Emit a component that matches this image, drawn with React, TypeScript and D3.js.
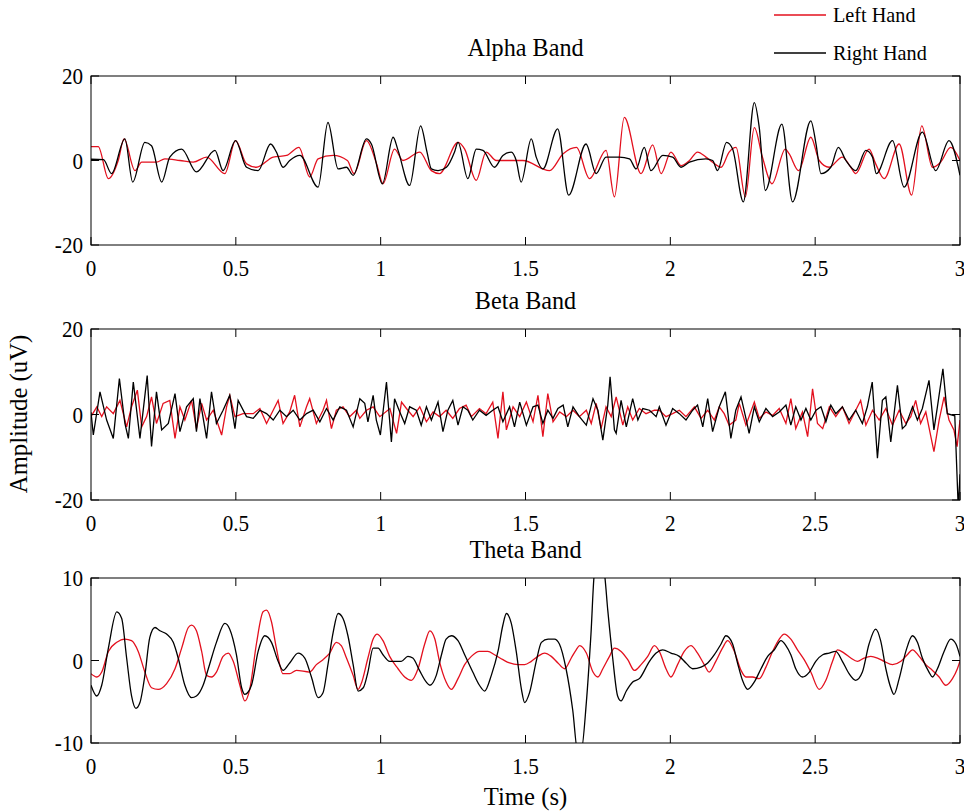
import * as d3 from 'd3'

type Pt = [number, number]

// time axis (s) and amplitude ticks
const timeTicks = [0, 0.5, 1, 1.5, 2, 2.5, 3]
const wideTicks = [-20, 0, 20]
const narrowTicks = [-10, 0, 10]

// Alpha band: [time s, amplitude uV]
const alphaLeft: Pt[] = [
  [0, 3.3], [0.025, 3.3], [0.06, -4.3], [0.094, 0], [0.114, 5.1], [0.152, -2.4], [0.175, -0.4], [0.226, -0.4],
  [0.255, 0.4], [0.307, 0], [0.353, -0.4], [0.399, 0.8], [0.462, -3.1], [0.499, 4.7], [0.537, -0.8], [0.571, -1.6],
  [0.629, 0.8], [0.675, 1.2], [0.718, 3.1], [0.755, -3.9], [0.784, 0.4], [0.836, 1.2], [0.885, 0], [0.908, -3.1],
  [0.951, 4.7], [0.986, -0.8], [1.008, -5.5], [1.048, 2.7], [1.077, 0], [1.135, 2.0], [1.175, -2.4], [1.203, -3.1],
  [1.267, 4.3], [1.29, 2.7], [1.33, -4.7], [1.364, 2.0], [1.399, 0], [1.491, 0], [1.583, -2.4], [1.63, 1.6],
  [1.676, 3.1], [1.721, -4.3], [1.778, 2.4], [1.807, -8.6], [1.841, 10.2], [1.899, -3.1], [1.939, 3.7], [1.968, -3.1],
  [2.002, 2.0], [2.037, -1.2], [2.066, 0], [2.094, 2.0], [2.123, 0.8], [2.146, -0.4], [2.175, -1.6], [2.203, 2.0],
  [2.227, 3.1], [2.259, -8.6], [2.29, 7.8], [2.318, 0.8], [2.351, -5.5], [2.397, 2.7], [2.41, 1.6], [2.443, -2.4],
  [2.485, 5.5], [2.514, 0], [2.548, -1.6], [2.594, 0.8], [2.623, -1.6], [2.64, -3.1], [2.686, 2.7], [2.709, -0.8],
  [2.738, -4.3], [2.79, 3.9], [2.833, -8.2], [2.868, 8.2], [2.905, -1.6], [2.933, -0.4], [2.968, 3.1], [3.0, 0],
]
const alphaRight: Pt[] = [
  [0, 0.3], [0.043, 0.2], [0.071, -3.1], [0.117, 5.1], [0.144, -5.1], [0.186, 4.3], [0.209, 3.5], [0.244, -5.1],
  [0.272, 0.8], [0.313, 2.7], [0.364, -2.7], [0.428, 2.4], [0.456, -2.4], [0.499, 4.7], [0.537, -1.6], [0.577, -2.4],
  [0.62, 3.9], [0.64, 2.0], [0.663, -1.6], [0.686, 0], [0.721, 1.2], [0.784, -6.3], [0.818, 9.0], [0.853, -2.0],
  [0.882, -1.6], [0.905, -3.5], [0.951, 5.1], [0.968, 3.9], [1.006, -5.5], [1.043, 5.5], [1.06, 2.4], [1.1, -5.9],
  [1.138, 8.2], [1.16, 2.0], [1.175, -2.0], [1.198, -2.4], [1.227, -1.6], [1.255, 2.0], [1.267, 4.3], [1.301, -4.3],
  [1.33, 2.7], [1.353, 2.4], [1.393, -1.6], [1.422, 1.2], [1.451, 2.0], [1.468, 0], [1.485, -5.1], [1.52, 5.1],
  [1.537, 0.8], [1.56, -2.0], [1.611, 7.5], [1.649, -8.2], [1.709, 3.9], [1.744, -3.1], [1.778, 0.8], [1.824, 0.8],
  [1.859, 0.4], [1.882, -2.0], [1.91, 3.1], [1.933, -2.4], [1.974, 1.2], [2.008, 0.8], [2.037, -1.6], [2.066, -0.4],
  [2.123, 0.4], [2.146, 0], [2.163, -2.4], [2.194, 4.3], [2.215, 2.7], [2.252, -9.8], [2.29, 13.7], [2.307, 7.8],
  [2.328, -7.1], [2.385, 8.6], [2.422, -9.8], [2.485, 9.4], [2.503, 3.9], [2.52, -3.1], [2.554, -1.6], [2.58, 3.1],
  [2.606, 0], [2.64, -2.4], [2.675, 2.4], [2.698, 0.8], [2.711, -3.1], [2.767, 4.7], [2.807, -6.3], [2.87, 6.7],
  [2.916, -2.4], [2.962, 4.7], [3.0, -3.5],
]

// Beta band
const betaLeft: Pt[] = [
  [0, -0.5], [0.02, 1.8], [0.037, -0.5], [0.054, 1.8], [0.077, 0.2], [0.1, 3.3], [0.123, -2.9], [0.14, 1.8],
  [0.16, 5.7], [0.175, -2.9], [0.192, -0.5], [0.209, 4.1], [0.226, -2.1], [0.249, 2.6], [0.272, 3.3], [0.29, -5.6],
  [0.307, 1.8], [0.324, -1.3], [0.347, 3.3], [0.364, -3.3], [0.382, 2.6], [0.399, -1.3], [0.422, 1.0], [0.451, -4.8],
  [0.468, 1.8], [0.479, 4.5], [0.497, -0.5], [0.525, 0.2], [0.56, 0.2], [0.583, 1.4], [0.606, -2.1], [0.629, 1.0],
  [0.646, 3.3], [0.663, -2.1], [0.686, 0.6], [0.703, 4.5], [0.721, -2.9], [0.744, 1.8], [0.755, 3.7], [0.778, -2.1],
  [0.801, 1.0], [0.813, 3.3], [0.83, -3.3], [0.847, 1.0], [0.87, 1.8], [0.893, -0.5], [0.916, 1.0], [0.928, -0.9],
  [0.951, 1.0], [0.974, 1.8], [0.997, -0.5], [1.032, 1.4], [1.055, -4.4], [1.072, 2.9], [1.089, 1.4], [1.112, -0.5],
  [1.135, 1.8], [1.158, -1.7], [1.181, 0.6], [1.203, -0.5], [1.226, 1.0], [1.249, -0.9], [1.272, 1.4], [1.295, 2.2],
  [1.313, -0.5], [1.341, 1.4], [1.364, 0.2], [1.387, 2.9], [1.405, -5.6], [1.422, 5.3], [1.434, -3.6], [1.457, 1.8],
  [1.48, -0.5], [1.503, 2.9], [1.526, -1.7], [1.543, 4.5], [1.56, -5.2], [1.577, 4.9], [1.595, -1.7], [1.618, 0.6],
  [1.641, -0.5], [1.664, 1.0], [1.686, -0.5], [1.71, 1.0], [1.727, -2.1], [1.744, 2.6], [1.761, -3.3], [1.778, 1.8],
  [1.796, -0.5], [1.813, 4.1], [1.836, -2.5], [1.853, 1.8], [1.87, -1.3], [1.893, 1.4], [1.916, 0.2], [1.945, 1.0],
  [1.962, 1.0], [1.985, -0.5], [2.008, 0.2], [2.031, 1.0], [2.054, -0.5], [2.083, 1.8], [2.106, -0.9], [2.129, 1.0],
  [2.152, -1.3], [2.169, 1.8], [2.186, 0.2], [2.203, -2.5], [2.226, -1.3], [2.238, 2.6], [2.261, -2.5], [2.29, 2.9],
  [2.307, -0.9], [2.33, 0.6], [2.353, -0.2], [2.376, 1.4], [2.399, -2.1], [2.416, 3.7], [2.433, -3.3], [2.456, 0.6],
  [2.474, -5.2], [2.491, 6.0], [2.508, -2.1], [2.526, -3.3], [2.549, 1.8], [2.571, -0.5], [2.594, 1.8], [2.617, -2.1],
  [2.64, 1.0], [2.657, 3.3], [2.675, -2.5], [2.698, 1.0], [2.721, -1.3], [2.744, 1.4], [2.767, -2.5], [2.79, 1.0],
  [2.813, -2.1], [2.83, -0.5], [2.847, 3.3], [2.864, -2.1], [2.882, 0.6], [2.91, -8.7], [2.928, -1.3], [2.945, 4.1],
  [2.962, -1.3], [2.979, -3.6], [2.99, -7.5], [3.0, -1.3],
]
const betaRight: Pt[] = [
  [0, 0.5], [0.008, -4.8], [0.031, 5.3], [0.054, -1.3], [0.077, -5.6], [0.098, 8.4], [0.117, -2.1], [0.129, -5.6],
  [0.146, 7.6], [0.169, -5.6], [0.194, 9.1], [0.209, -7.5], [0.226, 5.3], [0.244, -3.6], [0.267, -2.1], [0.29, 4.9],
  [0.307, -4.0], [0.33, 1.8], [0.353, 3.7], [0.364, -4.0], [0.376, 3.7], [0.399, -5.6], [0.416, 5.3], [0.433, -2.1],
  [0.456, 1.0], [0.479, 4.5], [0.497, -3.3], [0.508, 3.3], [0.537, -0.5], [0.56, -0.9], [0.583, 1.0], [0.606, 0.2],
  [0.629, -1.3], [0.652, 1.0], [0.675, -0.5], [0.698, 1.0], [0.721, -1.3], [0.744, 0.2], [0.767, 1.0], [0.79, -1.7],
  [0.813, 1.4], [0.836, -1.3], [0.859, 1.8], [0.882, 1.0], [0.905, -2.9], [0.928, 3.7], [0.945, 2.6], [0.956, -1.7],
  [0.974, 4.5], [0.985, -1.3], [0.999, -4.8], [1.02, 7.6], [1.037, -6.4], [1.048, 3.7], [1.066, 0.6], [1.083, -2.1],
  [1.1, 1.8], [1.123, 1.0], [1.14, -2.5], [1.158, 1.8], [1.175, -1.3], [1.198, 2.9], [1.215, -4.0], [1.232, 1.0],
  [1.249, 3.3], [1.267, -2.5], [1.284, 1.8], [1.301, 1.0], [1.318, -1.3], [1.341, 1.0], [1.364, -0.2], [1.387, 1.0],
  [1.405, 1.8], [1.422, -1.7], [1.445, 1.8], [1.462, -2.9], [1.48, 2.9], [1.503, -2.5], [1.526, 1.8], [1.543, 2.2],
  [1.56, -2.1], [1.577, 1.0], [1.595, -0.9], [1.612, 1.4], [1.63, 2.2], [1.646, -2.9], [1.664, 1.8], [1.686, -0.5],
  [1.71, -2.5], [1.733, 3.7], [1.75, 1.0], [1.767, -6.0], [1.784, 2.2], [1.792, 8.8], [1.807, -3.6], [1.813, -4.4],
  [1.83, 3.3], [1.848, -2.9], [1.87, 3.7], [1.888, -1.3], [1.905, 1.4], [1.928, 1.0], [1.951, -0.5], [1.962, 1.8],
  [1.985, -2.5], [2.008, 1.4], [2.031, 0.2], [2.054, -1.3], [2.077, 1.0], [2.094, 2.2], [2.112, -2.9], [2.129, 3.7],
  [2.146, -4.0], [2.169, 1.8], [2.19, 5.3], [2.209, -5.6], [2.226, 1.0], [2.244, 4.1], [2.261, -0.9], [2.272, -4.4],
  [2.29, 1.8], [2.307, -1.7], [2.33, 1.4], [2.353, -0.5], [2.376, 0.6], [2.399, 2.2], [2.416, -2.5], [2.433, 1.8],
  [2.451, -1.3], [2.468, 1.4], [2.485, -1.3], [2.503, 1.0], [2.52, 1.8], [2.537, -1.7], [2.554, 2.2], [2.571, 0.2],
  [2.594, 1.8], [2.617, -1.3], [2.64, 1.0], [2.663, -2.1], [2.68, 1.8], [2.697, 7.6], [2.715, -10.2], [2.732, 3.3],
  [2.744, 4.1], [2.761, -6.4], [2.784, 6.8], [2.801, -3.3], [2.813, -2.5], [2.836, 1.8], [2.853, -1.3], [2.87, 1.4],
  [2.893, 8.0], [2.91, -3.6], [2.922, 1.8], [2.941, 10.7], [2.956, 0.2], [2.982, -0.3], [2.994, -22], [3.0, -14],
]

// Theta band
const thetaLeft: Pt[] = [
  [0, -1.6], [0.02, -2.0], [0.037, -1.4], [0.06, 1.1], [0.089, 2.2], [0.117, 2.6], [0.14, 2.4], [0.163, 1.1],
  [0.186, -1.4], [0.209, -3.3], [0.232, -3.5], [0.261, -2.8], [0.29, -1.0], [0.313, 1.5], [0.336, 4.0], [0.347, 4.3],
  [0.364, 3.6], [0.382, 1.1], [0.399, -1.8], [0.416, -2.0], [0.433, -1.4], [0.456, 0.5], [0.474, 0.9], [0.491, -0.1],
  [0.514, -3.0], [0.531, -4.9], [0.548, -3.5], [0.571, 2.0], [0.594, 5.9], [0.606, 6.1], [0.623, 4.7], [0.64, 1.5],
  [0.663, -1.6], [0.686, -1.6], [0.709, -1.2], [0.755, -1.4], [0.778, -0.5], [0.801, 0.1], [0.824, 0.9], [0.847, 2.2],
  [0.864, 1.8], [0.882, 0.3], [0.905, -1.8], [0.922, -3.5], [0.933, -2.8], [0.956, 0.3], [0.974, 2.6], [0.988, 3.2],
  [1.008, 2.4], [1.031, 0.5], [1.06, -1.0], [1.083, -2.0], [1.106, -2.4], [1.129, -1.0], [1.152, 2.0], [1.17, 3.6],
  [1.187, 2.6], [1.203, -0.1], [1.226, -2.6], [1.244, -3.5], [1.267, -2.2], [1.29, -0.5], [1.313, 0.5], [1.341, 1.1],
  [1.37, 1.1], [1.393, 0.7], [1.422, 0.1], [1.445, -0.3], [1.474, -0.5], [1.497, -0.5], [1.52, -0.1], [1.543, 0.5],
  [1.566, 0.9], [1.589, 0.5], [1.612, -0.3], [1.635, -1.0], [1.658, 0.3], [1.675, 1.3], [1.687, 1.8], [1.71, 0.9],
  [1.733, -1.4], [1.75, -2.0], [1.767, -1.0], [1.79, 0.5], [1.807, 1.5], [1.83, 1.1], [1.853, 0.1], [1.876, -1.2],
  [1.899, -0.5], [1.922, 0.5], [1.945, 1.8], [1.962, 1.1], [1.985, -1.0], [2.002, -2.0], [2.025, -0.5], [2.048, 1.1],
  [2.071, 1.8], [2.094, 0.9], [2.117, -0.5], [2.134, -1.4], [2.157, -0.1], [2.18, 1.5], [2.198, 2.4], [2.221, 1.1],
  [2.244, -1.2], [2.261, -2.0], [2.284, -2.0], [2.307, -2.2], [2.33, -0.8], [2.353, 1.1], [2.376, 2.6], [2.393, 3.2],
  [2.416, 2.6], [2.439, 1.3], [2.462, 0.1], [2.485, -1.4], [2.514, -3.5], [2.537, -2.4], [2.56, -0.1], [2.577, 1.3],
  [2.6, 0.9], [2.623, 0.3], [2.646, -0.1], [2.669, 0.3], [2.692, 0.5], [2.715, 0.3], [2.738, -0.1], [2.767, -0.5],
  [2.796, -0.1], [2.818, 0.7], [2.836, 1.3], [2.859, 0.5], [2.882, -0.5], [2.905, -1.2], [2.928, -2.0], [2.951, -3.0],
  [2.974, -2.2], [2.991, -1.0], [3.0, -0.1],
]
const thetaRight: Pt[] = [
  [0, -3.0], [0.02, -4.3], [0.037, -3.0], [0.06, 1.5], [0.089, 5.9], [0.106, 5.1], [0.123, 0.3], [0.14, -4.3],
  [0.155, -5.8], [0.169, -5.1], [0.186, -1.8], [0.203, 2.8], [0.221, 4.0], [0.238, 3.6], [0.261, 3.2], [0.284, 2.2],
  [0.301, 0.3], [0.324, -3.0], [0.347, -4.5], [0.364, -4.3], [0.387, -3.0], [0.405, -1.0], [0.433, 2.2], [0.462, 4.5],
  [0.479, 3.8], [0.502, 0.7], [0.52, -3.3], [0.531, -4.1], [0.554, -3.0], [0.577, 1.1], [0.6, 3.0], [0.623, 2.2],
  [0.646, -0.1], [0.663, -1.2], [0.686, -0.3], [0.715, 0.9], [0.738, 0.3], [0.761, -2.0], [0.784, -4.5], [0.801, -3.9],
  [0.818, -0.5], [0.836, 3.4], [0.853, 5.7], [0.87, 5.1], [0.887, 3.0], [0.905, -0.5], [0.922, -3.7], [0.94, -3.3],
  [0.956, -1.4], [0.974, 1.5], [0.991, 1.5], [1.008, 0.7], [1.031, -0.1], [1.071, -0.1], [1.094, 0.5], [1.111, 0.3],
  [1.134, -1.2], [1.157, -2.6], [1.17, -3.0], [1.192, -1.8], [1.21, 0.7], [1.226, 2.6], [1.244, 3.0], [1.267, 2.4],
  [1.29, 0.7], [1.318, -1.4], [1.341, -3.0], [1.359, -3.7], [1.382, -1.8], [1.405, 1.1], [1.422, 4.3], [1.434, 5.7],
  [1.451, 4.5], [1.468, 1.1], [1.486, -3.5], [1.497, -5.1], [1.514, -3.9], [1.537, -0.1], [1.555, 2.2], [1.578, 2.6],
  [1.6, 2.6], [1.617, 2.0], [1.64, -1.0], [1.663, -6.0], [1.68, -11], [1.692, -11], [1.71, -5.1], [1.726, 3.2],
  [1.738, 10.7], [1.755, 12.5], [1.772, 10.7], [1.784, 6.1], [1.801, 0.3], [1.818, -4.3], [1.83, -4.9], [1.848, -3.7],
  [1.87, -2.6], [1.893, -2.2], [1.928, -0.1], [1.951, 0.9], [1.974, 1.3], [2.002, 0.9], [2.031, 0.5], [2.054, -0.3],
  [2.077, -1.0], [2.106, -0.8], [2.129, -0.3], [2.152, 0.7], [2.175, 2.0], [2.192, 3.0], [2.215, 2.0], [2.232, -0.3],
  [2.249, -2.4], [2.267, -3.5], [2.29, -2.6], [2.313, -1.0], [2.336, 0.5], [2.359, 1.3], [2.382, 2.4], [2.399, 1.8],
  [2.416, 0.7], [2.433, -1.0], [2.456, -2.0], [2.48, -1.4], [2.502, -0.1], [2.526, 0.7], [2.548, 0.9], [2.571, 1.1],
  [2.594, -0.1], [2.617, -1.6], [2.64, -2.4], [2.663, -1.4], [2.686, 2.0], [2.709, 3.8], [2.726, 2.4], [2.744, -1.0],
  [2.761, -3.3], [2.772, -4.1], [2.79, -2.2], [2.813, 1.1], [2.836, 3.0], [2.853, 2.2], [2.87, 0.3], [2.893, -1.4],
  [2.905, -2.0], [2.922, -1.0], [2.945, 1.1], [2.968, 2.6], [2.986, 2.0], [3.0, 0.5],
]

const RED = '#e3101e'
const FONT = '"Liberation Serif", "Times New Roman", serif'
const X0 = 91
const X1 = 960

const x = d3.scaleLinear().domain([0, 3]).range([X0, X1])

const panels = [
  { id: 'alpha', title: 'Alpha Band', top: 76, bottom: 245, domain: [-20, 20], ticks: wideTicks, left: alphaLeft, right: alphaRight, curve: d3.curveMonotoneX },
  { id: 'beta', title: 'Beta Band', top: 329, bottom: 500, domain: [-20, 20], ticks: wideTicks, left: betaLeft, right: betaRight, curve: d3.curveLinear },
  { id: 'theta', title: 'Theta Band', top: 578, bottom: 743, domain: [-10, 10], ticks: narrowTicks, left: thetaLeft, right: thetaRight, curve: d3.curveMonotoneX },
]

// condensed, tall-looking text like the bitmap font of the original figure
function Label({ x: px, y: py, size, anchor = 'middle', sx = 0.88, rotate = 0, children }: {
  x: number; y: number; size: number; anchor?: string; sx?: number; rotate?: number; children: any
}) {
  return (
    <text
      transform={`translate(${px},${py}) rotate(${rotate}) scale(${sx},1)`}
      textAnchor={anchor}
      fontFamily={FONT}
      fontSize={size}
      fill="#000"
    >
      {children}
    </text>
  )
}

function Panel({ p }: { p: (typeof panels)[number] }) {
  const y = d3.scaleLinear().domain(p.domain).range([p.bottom, p.top])
  const line = d3.line<Pt>().x(d => x(d[0])).y(d => y(d[1])).curve(p.curve)
  const tl = 8
  return (
    <g>
      <defs>
        <clipPath id={`clip-${p.id}`}>
          <rect x={X0} y={p.top} width={X1 - X0} height={p.bottom - p.top} />
        </clipPath>
      </defs>
      <g clipPath={`url(#clip-${p.id})`}>
        <path d={line(p.left) ?? ''} fill="none" stroke={RED} strokeWidth={1.3} />
        <path d={line(p.right) ?? ''} fill="none" stroke="#000" strokeWidth={1.3} />
      </g>
      <rect x={X0} y={p.top} width={X1 - X0} height={p.bottom - p.top} fill="none" stroke="#000" strokeWidth={1} />
      {timeTicks.map(t => (
        <g key={`xt${t}`}>
          <line x1={x(t)} x2={x(t)} y1={p.bottom} y2={p.bottom - tl} stroke="#000" />
          <line x1={x(t)} x2={x(t)} y1={p.top} y2={p.top + tl} stroke="#000" />
          <Label x={x(t)} y={p.bottom + 31} size={24}>{d3.format('')(t)}</Label>
        </g>
      ))}
      {p.ticks.map(v => (
        <g key={`yt${v}`}>
          <line x1={X0} x2={X0 + tl} y1={y(v)} y2={y(v)} stroke="#000" />
          <line x1={X1} x2={X1 - tl} y1={y(v)} y2={y(v)} stroke="#000" />
          <Label x={83} y={y(v) + 8} size={24} anchor="end">{v}</Label>
        </g>
      ))}
      <Label x={(X0 + X1) / 2} y={p.top - 20} size={26} sx={0.93}>{p.title}</Label>
    </g>
  )
}

export default function App() {
  return (
    <svg width={964} height={811} style={{ position: 'absolute', left: 0, top: 0, background: '#fff' }}>
      <rect width={964} height={811} fill="#fff" />
      {panels.map(p => <Panel key={p.id} p={p} />)}
      <Label x={(X0 + X1) / 2} y={805} size={26} sx={0.95}>Time (s)</Label>
      <Label x={27} y={414} size={26} sx={0.95} rotate={-90}>Amplitude (uV)</Label>
      <line x1={774} x2={826} y1={15} y2={15} stroke={RED} strokeWidth={1.3} />
      <Label x={833} y={22} size={22} sx={0.92} anchor="start">Left Hand</Label>
      <line x1={774} x2={826} y1={53} y2={53} stroke="#000" strokeWidth={1.3} />
      <Label x={833} y={60} size={22} sx={0.92} anchor="start">Right Hand</Label>
    </svg>
  )
}
